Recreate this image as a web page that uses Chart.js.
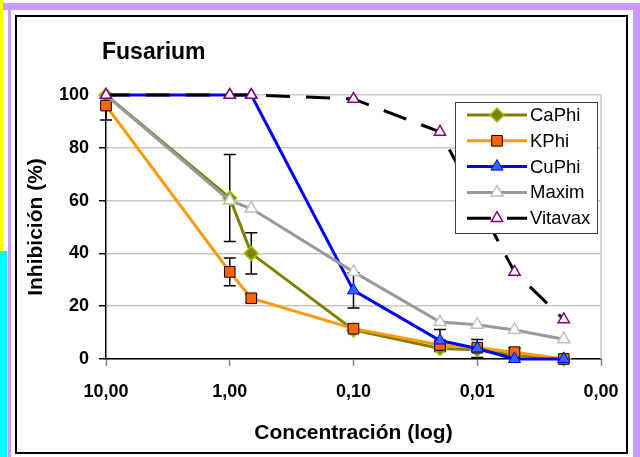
<!DOCTYPE html>
<html><head><meta charset="utf-8">
<script src="https://cdn.jsdelivr.net/npm/chart.js@4"></script>
<style>
html,body{margin:0;padding:0;background:#fff;}
body{width:640px;height:457px;position:relative;overflow:hidden;}
.deco{position:absolute;}
</style></head><body>
<div class="deco" style="left:0;top:0;width:3px;height:251px;background:#ffff00"></div>
<div class="deco" style="left:0;top:251px;width:7px;height:206px;background:#00ffff"></div>
<div class="deco" style="left:3px;top:3px;width:637px;height:7px;background:#cc99ff"></div>
<div class="deco" style="left:8px;top:3px;width:3px;height:454px;background:#cc99ff"></div>
<div class="deco" style="left:633px;top:3px;width:7px;height:454px;background:#cc99ff"></div>
<div class="deco" style="left:15px;top:15px;width:613px;height:439px;border:2px solid #000;box-sizing:border-box;"></div>
<canvas id="c" width="609" height="434" style="position:absolute;left:17px;top:17px;"></canvas>
<script>
const FONT = "'Liberation Sans', Arial, sans-serif";
const chartTitle = "Fusarium";
const xAxisTitle = "Concentración (log)";
const yAxisTitle = "Inhibición (%)";
const concentrations = [10, 1, 0.67, 0.1, 0.02, 0.01, 0.005, 0.002];
const xTickValues = [10, 1, 0.1, 0.01, 0.001];
const xTickLabels = ["10,00", "1,00", "0,10", "0,01", "0,00"];
const seriesNames = ["CaPhi", "KPhi", "CuPhi", "Maxim", "Vitavax"];
const caphi   = [100, 61, 40, 11, 4, 3.5, 1.5, 0];
const kphi    = [96, 33, 23, 11.5, 5.3, 4.3, 2.6, 0];
const cuphi   = [100, 100, 100, 26, 7, 4, 0, 0];
const maxim   = [100, 60, 57, 33, 14, 13, 11, 7.5];
const vitavax = [100, 100, 100, 98.5, 86, null, 33, 15];
const caphiErr  = [null, 16.5, 7.8, null, null, null, null, null];
const kphiErr   = [5.5, 5.3, 1.5, null, null, null, 1.5, null];
const cuphiErr  = [null, null, null, 6.7, 4.2, 3.4, null, null];
const maximErr  = [null, null, null, null, null, null, null, null];
const vitavaxErr= [null, null, null, null, null, null, null, null];

function pts(arr){ return concentrations.map((c,i)=>({x:c, y:arr[i]})); }

const datasets = [
  {label:seriesNames[0], data:pts(caphi), err:caphiErr, borderColor:'#808000', backgroundColor:'#808000',
   pointStyle:'rectRot', pointRadius:7, pointBackgroundColor:'#808000', pointBorderColor:'#99cc00', pointBorderWidth:1.5, order:5},
  {label:seriesNames[1], data:pts(kphi), err:kphiErr, borderColor:'#ff9900', backgroundColor:'#ff9900',
   pointStyle:'rect', pointRadius:7.5, pointBackgroundColor:'#ff6600', pointBorderColor:'#000000', pointBorderWidth:1, order:4},
  {label:seriesNames[2], data:pts(cuphi), err:cuphiErr, borderColor:'#0000ff', backgroundColor:'#0000ff',
   pointStyle:'triangle', pointRadius:7, pointBackgroundColor:'#3366ff', pointBorderColor:'#0000ff', pointBorderWidth:1, order:3},
  {label:seriesNames[3], data:pts(maxim), err:maximErr, borderColor:'#999999', backgroundColor:'#999999',
   pointStyle:'triangle', pointRadius:7, pointBackgroundColor:'#ffffff', pointBorderColor:'#c0c0c0', pointBorderWidth:1.5, order:2},
  {label:seriesNames[4], data:pts(vitavax), err:vitavaxErr, borderColor:'#000000', backgroundColor:'#000000', borderDash:[24,16],
   pointStyle:'triangle', pointRadius:6.5, pointBackgroundColor:'#ffffff', pointBorderColor:'#800080', pointBorderWidth:1.5, order:1, spanGaps:true}
];
datasets.forEach(d=>{ d.borderWidth = 3; d.tension = 0; d.fill = false; d.clip = false; d.pointHoverRadius = d.pointRadius; });

const errorBars = {
  id:'errorBars',
  beforeDatasetsDraw(chart){
    const ctx = chart.ctx, xs = chart.scales.x, ys = chart.scales.y;
    ctx.save(); ctx.strokeStyle = '#000'; ctx.lineWidth = 1.5;
    chart.data.datasets.forEach(ds=>{
      ds.data.forEach((p,i)=>{
        const e = ds.err[i];
        if (e == null || p.y == null) return;
        const px = xs.getPixelForValue(p.x);
        const y1 = ys.getPixelForValue(Math.min(100.5, p.y + e)), y2 = ys.getPixelForValue(Math.max(0, p.y - e));
        ctx.beginPath();
        ctx.moveTo(px, y1); ctx.lineTo(px, y2);
        ctx.moveTo(px-6, y1); ctx.lineTo(px+6, y1);
        ctx.moveTo(px-6, y2); ctx.lineTo(px+6, y2);
        ctx.stroke();
      });
    });
    ctx.restore();
  }
};

const decor = {
  id:'decor',
  beforeDatasetsDraw(chart){
    const ctx = chart.ctx, a = chart.chartArea;
    ctx.save(); ctx.strokeStyle = '#c8c8c8'; ctx.lineWidth = 1.5;
    ctx.beginPath(); ctx.moveTo(a.right, a.top); ctx.lineTo(a.right, a.bottom); ctx.stroke();
    ctx.restore();
  },
  afterDraw(chart){
    const ctx = chart.ctx, a = chart.chartArea;
    ctx.save();
    ctx.fillStyle = '#000'; ctx.font = 'bold 23px ' + FONT;
    ctx.textBaseline = 'middle'; ctx.textAlign = 'left';
    ctx.fillText(chartTitle, a.left - 4, a.top - 42);
    const lx = a.right - 146, ly = a.top + 7, lw = 142, lh = 131;
    ctx.fillStyle = '#fff'; ctx.fillRect(lx, ly, lw, lh);
    ctx.strokeStyle = '#404040'; ctx.lineWidth = 1; ctx.strokeRect(lx+0.5, ly+0.5, lw, lh);
    chart.data.datasets.forEach((ds, i)=>{
      const cy = ly + 13 + i*25.8;
      const x0 = lx + 12, x1 = lx + 72, xm = (x0+x1)/2;
      ctx.strokeStyle = ds.borderColor; ctx.lineWidth = 3;
      ctx.setLineDash(ds.borderDash ? [24,16] : []);
      ctx.beginPath(); ctx.moveTo(x0, cy); ctx.lineTo(x1, cy); ctx.stroke();
      ctx.setLineDash([]);
      ctx.fillStyle = ds.pointBackgroundColor; ctx.strokeStyle = ds.pointBorderColor; ctx.lineWidth = ds.pointBorderWidth;
      Chart.helpers.drawPoint(ctx, {pointStyle: ds.pointStyle, rotation:0, radius: ds.pointRadius, borderWidth: ds.pointBorderWidth}, xm, cy);
      ctx.fillStyle = '#000'; ctx.font = '18.5px ' + FONT; ctx.textBaseline = 'middle'; ctx.textAlign = 'left';
      ctx.fillText(ds.label, x1 + 3, cy + 1);
    });
    ctx.restore();
  }
};

new Chart(document.getElementById('c'), {
  type:'line',
  data:{datasets},
  plugins:[errorBars, decor],
  options:{
    responsive:false, animation:false, devicePixelRatio:1,
    layout:{autoPadding:false, padding:{top:78, right:25, left:0, bottom:0}},
    plugins:{legend:{display:false}, tooltip:{enabled:false}, title:{display:false}},
    scales:{
      x:{
        type:'logarithmic', reverse:true, min:0.001, max:10,
        afterBuildTicks(s){ s.ticks = xTickValues.map(v=>({value:v})); },
        afterFit(s){ s.height = 92; s.paddingLeft = 0; s.paddingRight = 0; },
        ticks:{autoSkip:false, maxRotation:0, padding:15, color:'#000', font:{family:FONT, size:18, weight:'bold'},
          callback(v){ const i = xTickValues.indexOf(v); return i>=0 ? xTickLabels[i] : ''; }},
        grid:{drawOnChartArea:false, drawTicks:true, tickLength:7, tickColor:'#808080', tickWidth:1.5},
        border:{display:true, color:'#000', width:1.5},
        title:{display:true, text:xAxisTitle, color:'#000', font:{family:FONT, size:21, weight:'bold'}, padding:{top:0, bottom:5}}
      },
      y:{
        min:0, max:100,
        afterFit(s){ s.width = 89; s.paddingTop = 0; s.paddingBottom = 0; },
        ticks:{stepSize:20, padding:10, color:'#000', font:{family:FONT, size:18, weight:'bold'}},
        grid:{color:'#c8c8c8', lineWidth:1.5, drawTicks:true, tickLength:7, tickColor:'#000'},
        border:{display:true, color:'#000', width:1.5},
        title:{display:true, text:yAxisTitle, color:'#000', font:{family:FONT, size:21, weight:'bold'}, padding:{top:7, bottom:0}}
      }
    }
  }
});
</script>
</body></html>
